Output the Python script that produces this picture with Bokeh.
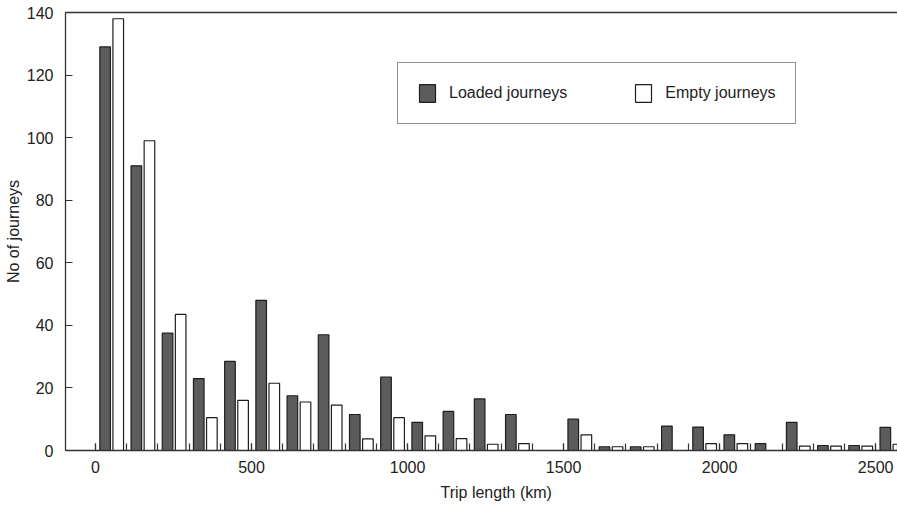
from bokeh.plotting import figure
from bokeh.models import FixedTicker, LinearAxis, Range1d, Title
from bokeh.embed import file_html
from bokeh.resources import INLINE

# Trip-length bins (start of each 100 km bin)
bin_start = [0, 100, 200, 300, 400, 500, 600, 700, 800, 900, 1000, 1100, 1200,
             1300, 1400, 1500, 1600, 1700, 1800, 1900, 2000, 2100, 2200, 2300,
             2400, 2500]
loaded = [129, 91, 37.5, 23, 28.5, 48, 17.5, 37, 11.5, 23.5, 9, 12.5, 16.5,
          11.5, 0, 10, 1.2, 1.2, 7.8, 7.5, 5, 2.2, 9, 1.6, 1.6, 7.4]
empty = [138, 99, 43.5, 10.5, 16, 21.5, 15.5, 14.5, 3.7, 10.5, 4.7, 3.8, 2,
         2.2, 0, 5, 1.2, 1.2, 0, 2.2, 2.2, 0, 1.4, 1.4, 1.4, 2]
x_tick_labels = [0, 500, 1000, 1500, 2000, 2500]
y_ticks = [0, 20, 40, 60, 80, 100, 120, 140]

FONT = "Liberation Sans"
INK = "#222222"
AXIS = "#333333"

p = figure(width=897, height=507, output_backend="svg", toolbar_location=None,
           x_range=Range1d(-96, 2570), y_range=Range1d(0, 140),
           min_border_left=65, min_border_right=0, min_border_top=12,
           min_border_bottom=57)
p.grid.visible = False
p.outline_line_color = None
p.background_fill_color = "white"

loaded_x = [b + 31 for b in bin_start]
empty_x = [b + 73 for b in bin_start]

p.vbar(x=loaded_x, top=loaded, bottom=0, width=34, fill_color="#5c5c5c",
       line_color="#1e1e1e", line_width=1.2, legend_label="Loaded journeys")
p.vbar(x=empty_x, top=empty, bottom=0, width=34, fill_color="white",
       line_color="#1e1e1e", line_width=1.2, legend_label="Empty journeys")

# x axis
xa = p.xaxis[0]
xa.ticker = FixedTicker(ticks=x_tick_labels, minor_ticks=bin_start)
xa.major_tick_in = 7
xa.major_tick_out = 0
xa.minor_tick_in = 7
xa.minor_tick_out = 0
xa.major_label_standoff = 10

# x axis title placed like the original (a little right of the frame centre)
xt = Title(text="Trip length (km)", align="left", offset=375,
           text_font=FONT, text_font_size="16px", text_font_style="normal",
           text_color=INK, standoff=13)
p.add_layout(xt, "below")

# y axis
ya = p.yaxis[0]
ya.ticker = FixedTicker(ticks=y_ticks)
ya.major_tick_in = 7
ya.major_tick_out = 0
ya.minor_tick_in = 0
ya.minor_tick_out = 0
ya.axis_label = "No of journeys"
ya.major_label_standoff = 12
ya.axis_label_standoff = 2

for ax in (xa, ya):
    ax.axis_line_color = AXIS
    ax.axis_line_width = 1.3
    ax.major_tick_line_color = AXIS
    ax.minor_tick_line_color = AXIS
    ax.major_tick_line_width = 1.2
    ax.minor_tick_line_width = 1.2
    ax.major_label_text_font = FONT
    ax.major_label_text_font_size = "16px"
    ax.major_label_text_color = INK
    ax.axis_label_text_font = FONT
    ax.axis_label_text_font_size = "16px"
    ax.axis_label_text_font_style = "normal"
    ax.axis_label_text_color = INK

# top frame line
top = LinearAxis(ticker=FixedTicker(ticks=[]), major_tick_in=0, major_tick_out=0,
                 minor_tick_in=0, minor_tick_out=0, major_label_text_font_size="0px",
                 major_label_standoff=0, axis_line_color=AXIS, axis_line_width=1.3)
p.add_layout(top, "above")

# legend
lg = p.legend[0]
lg.orientation = "horizontal"
lg.location = (332, 326)
lg.glyph_width = 20
lg.glyph_height = 22
lg.label_height = 22
lg.label_standoff = 12
lg.spacing = 66
lg.padding = 19
lg.margin = 0
lg.border_line_color = "#222222"
lg.border_line_width = 1.3
lg.background_fill_color = "white"
lg.background_fill_alpha = 1
lg.label_text_font = FONT
lg.label_text_font_size = "16px"
lg.label_text_color = INK

open("out.html", "w").write(file_html(p, INLINE))
